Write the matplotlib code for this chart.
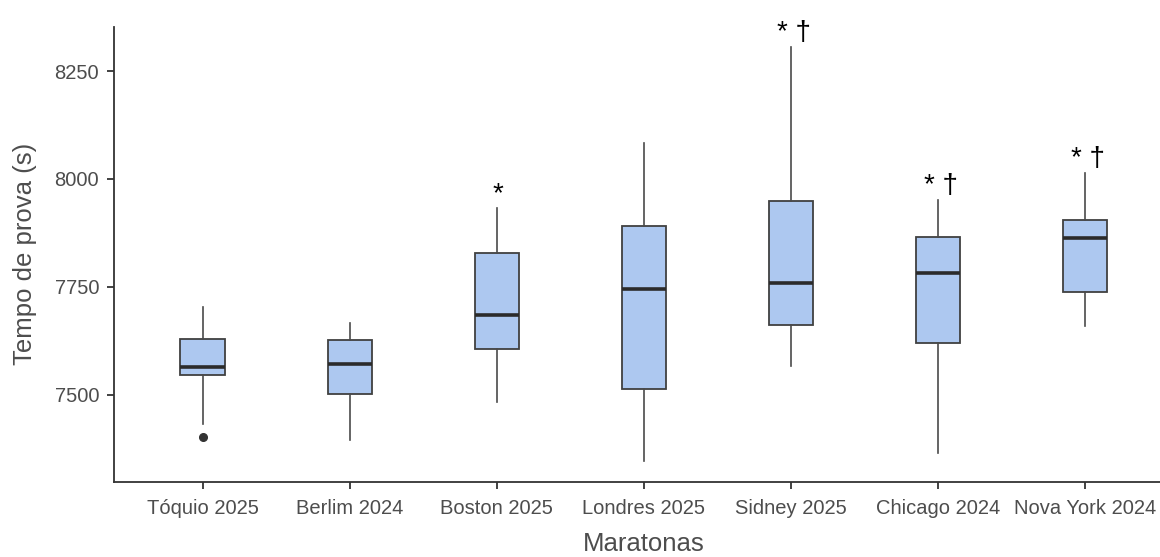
import matplotlib
matplotlib.use("Agg")
import matplotlib.pyplot as plt

# ---- data ----
categories = ["Tóquio 2025", "Berlim 2024", "Boston 2025", "Londres 2025",
              "Sidney 2025", "Chicago 2024", "Nova York 2024"]
whisker_low = [7431, 7396, 7484, 7346, 7567, 7365, 7660]
q1 = [7546, 7502, 7605, 7513, 7661, 7620, 7737]
medians = [7563, 7571, 7684, 7746, 7760, 7782, 7863]
q3 = [7629, 7626, 7829, 7890, 7948, 7865, 7906]
whisker_high = [7703, 7667, 7933, 8083, 8305, 7952, 8014]
outliers = [[7402], [], [], [], [], [], []]
annotations = ["", "", "*", "", "* \u2020", "* \u2020", "* \u2020"]
yticks = [7500, 7750, 8000, 8250]

plt.rcParams['font.family'] = ['Liberation Sans', 'DejaVu Sans']

W, H = 1160, 557
fig = plt.figure(figsize=(W / 100, H / 100), dpi=100)
left_px, right_px, top_px, bottom_px = 114.3, 1173, 26.7, 482
ax = fig.add_axes([left_px / W, 1 - bottom_px / H,
                   (right_px - left_px) / W, (bottom_px - top_px) / H])

stats = []
for i, c in enumerate(categories):
    stats.append(dict(label=c, whislo=whisker_low[i], q1=q1[i], med=medians[i],
                      q3=q3[i], whishi=whisker_high[i], fliers=outliers[i]))

positions = list(range(1, len(categories) + 1))
edge = '#404040'
ax.bxp(stats, positions=positions, widths=0.3, patch_artist=True, showcaps=False,
       boxprops=dict(facecolor='#adc8f0', edgecolor=edge, linewidth=1.3),
       whiskerprops=dict(color='#4a4a4a', linewidth=1.2),
       medianprops=dict(color='#2b2b2b', linewidth=2.6),
       flierprops=dict(marker='o', markerfacecolor='#333333', markeredgecolor='#333333',
                       markersize=5.5))

for p, a, wh in zip(positions, annotations, whisker_high):
    if a:
        ax.annotate(a, xy=(p, wh), xytext=(2 if '\u2020' in a else 1, 5),
                    textcoords='offset points', ha='center', va='baseline',
                    fontsize=20, color='black')

ax.set_xlim(0.4, 7.6)
ax.set_ylim(7297.6, 8352.9)
ax.set_xticks(positions)
ax.set_xticklabels(categories)
ax.set_yticks(yticks)

for s in ['top', 'right']:
    ax.spines[s].set_visible(False)
for s in ['left', 'bottom']:
    ax.spines[s].set_color('#333333')
    ax.spines[s].set_linewidth(1.3)

ax.tick_params(axis='both', which='major', length=5, width=1.3, color='#333333',
               labelsize=14.5, labelcolor='#4d4d4d')
ax.tick_params(axis='y', pad=6)
ax.tick_params(axis='x', pad=7)

ax.set_ylabel('Tempo de prova (s)', fontsize=18.5, color='#4d4d4d')
ax.set_xlabel('Maratonas', fontsize=18.5, color='#4d4d4d')
ax.yaxis.label.set_va('center')
ax.xaxis.label.set_va('center')
ax.yaxis.set_label_coords((25 - left_px) / (right_px - left_px), 0.5)
ax.xaxis.set_label_coords(0.5, -(544 - bottom_px) / (bottom_px - top_px))

fig.savefig('out.png', dpi=100)
